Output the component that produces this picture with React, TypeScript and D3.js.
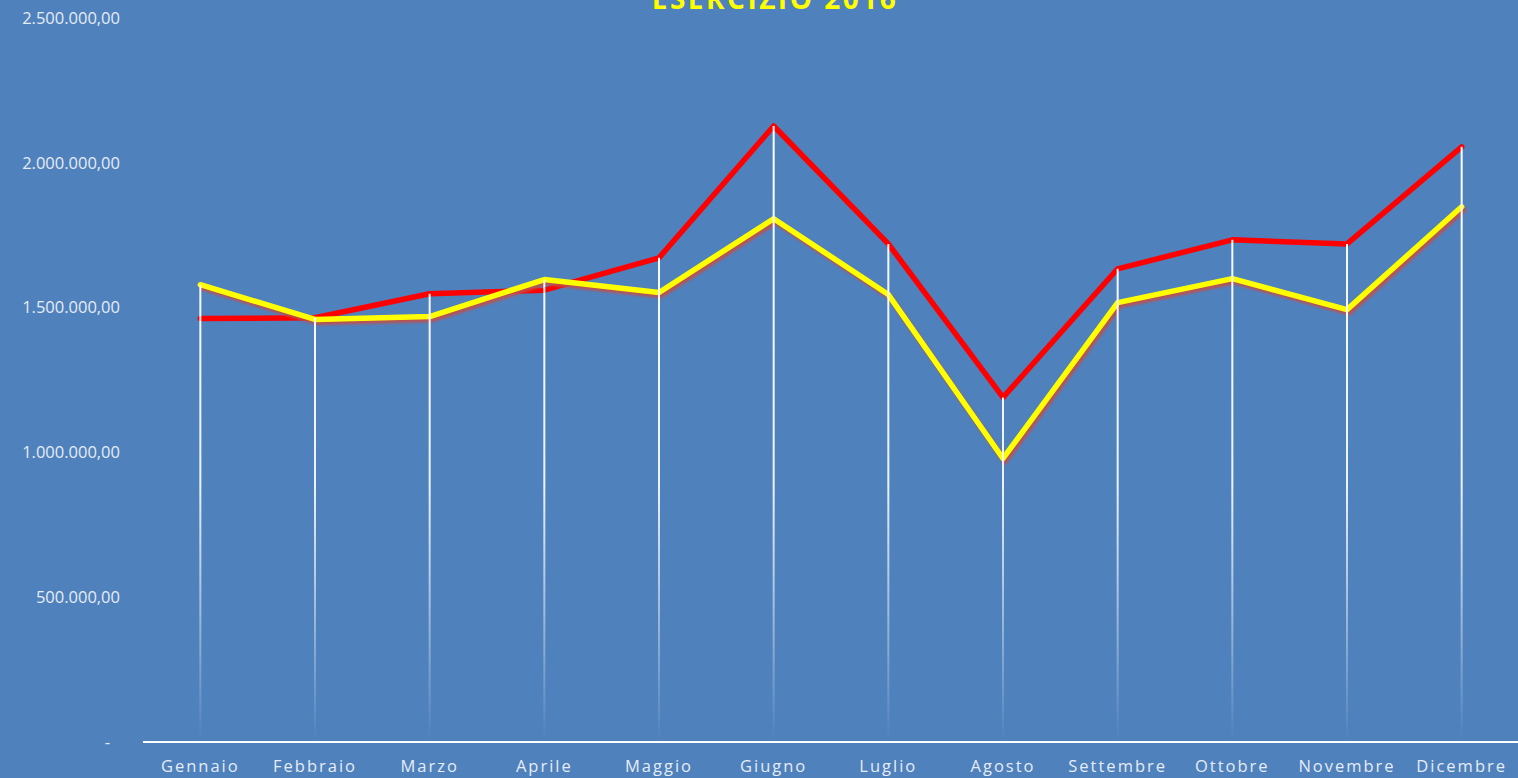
import React from "react";
import * as d3 from "d3";

const months = ["Gennaio","Febbraio","Marzo","Aprile","Maggio","Giugno","Luglio","Agosto","Settembre","Ottobre","Novembre","Dicembre"];
const redValues = [1462000,1465000,1548000,1560000,1672000,2127000,1720000,1190000,1634000,1734000,1720000,2055000];
const yellowValues = [1579000,1459000,1469000,1597000,1552000,1807000,1545000,979000,1517000,1600000,1493000,1848000];
const yTicks = [0,500000,1000000,1500000,2000000,2500000];
const title = "ESERCIZIO 2016";

const W = 1518, H = 778;

function fmt(v: number) {
  if (v === 0) return "-";
  const s = d3.format(",.2f")(v);
  return s.replace(/,/g, "#").replace(".", ",").replace(/#/g, ".");
}

export default function App() {
  const x = d3.scaleBand<string>().domain(months).range([143, 1519]);
  const y = d3.scaleLinear().domain([0, 2500000]).range([742, 18]);
  const cx = (m: string) => (x(m) as number) + x.bandwidth() / 2;
  const line = d3.line<number>().x((_, i) => cx(months[i])).y((d) => y(d));
  return (
    <svg width={W} height={H} style={{ position: "fixed", left: 0, top: 0, display: "block" }}>
      <defs>
        <linearGradient id="drop" gradientUnits="userSpaceOnUse" x1="0" y1="100" x2="0" y2="742">
          <stop offset="0" stopColor="#ffffff" stopOpacity={1} />
          <stop offset="0.6" stopColor="#ffffff" stopOpacity={0.9} />
          <stop offset="1" stopColor="#ffffff" stopOpacity={0} />
        </linearGradient>
        <filter id="blur" x="-5%" y="-5%" width="110%" height="110%">
          <feGaussianBlur stdDeviation="1" />
        </filter>
      </defs>
      <rect x={0} y={0} width={W} height={H} fill="#4f81bd" />
      <text x={775} y={9} textAnchor="middle" fill="#ffff00" fontFamily="Open Sans, sans-serif" fontWeight="bold" fontSize={28} letterSpacing={2.5}>{title}</text>
      {yTicks.map((t) => (
        <text key={t} x={t === 0 ? 110 : 120} y={y(t)} dy="0.35em" textAnchor="end" fill="#e6ecf4" fontFamily="Open Sans, sans-serif" fontSize={16.5}>{fmt(t)}</text>
      ))}
      <line x1={143} x2={1518} y1={742} y2={742} stroke="#ffffff" strokeWidth={2} />
      {months.map((m) => (
        <text key={m} x={cx(m)} y={772} textAnchor="middle" fill="#e6ecf4" fontFamily="Open Sans, sans-serif" fontSize={16.5} letterSpacing={2}>{m}</text>
      ))}
      <path d={line(redValues) || ""} fill="none" stroke="#ff0000" strokeWidth={5.5} strokeLinejoin="round" strokeLinecap="round" />
      <path d={line(yellowValues) || ""} fill="none" stroke="#c0504d" strokeWidth={5.5} strokeLinejoin="round" strokeLinecap="round" transform="translate(2,3)" filter="url(#blur)" opacity={0.9} />
      <path d={line(yellowValues) || ""} fill="none" stroke="#ffff00" strokeWidth={5.5} strokeLinejoin="round" strokeLinecap="round" />
      {months.map((m, i) => (
        <line key={m} x1={cx(m)} x2={cx(m)} y1={y(Math.max(redValues[i], yellowValues[i]))} y2={741} stroke="url(#drop)" strokeWidth={2} />
      ))}
    </svg>
  );
}
